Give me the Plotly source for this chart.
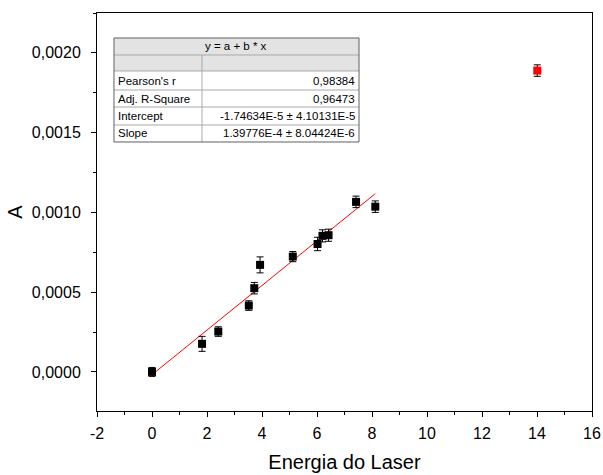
import plotly.graph_objects as go

# data
energy = [0.0, 1.82, 2.41, 3.52, 3.72, 3.93, 5.12, 6.02, 6.20, 6.42, 7.42, 8.12]
absorb = [0.0000, 0.000176, 0.000253, 0.000416, 0.000525, 0.000671, 0.000723, 0.000802, 0.000853, 0.000857, 0.001066, 0.001036]
err = [0.000028, 0.000047, 0.000030, 0.000030, 0.000036, 0.000050, 0.000032, 0.000042, 0.000038, 0.000038, 0.000036, 0.000036]
outlier_x = [14.01]
outlier_y = [0.001889]
outlier_err = [0.000036]
fit_a = -1.74634e-5
fit_b = 1.39776e-4
fit_x = [0.0, 8.12]
fit_y = [fit_a + fit_b * v for v in fit_x]

x_ticks = [-2, 0, 2, 4, 6, 8, 10, 12, 14, 16]
y_ticks = [0, 0.0005, 0.001, 0.0015, 0.002]

table_title = "y = a + b * x"
table_rows = [("Pearson's r", "0,98384"), ("Adj. R-Square", "0,96473"),
              ("Intercept", "-1.74634E-5 ± 4.10131E-5"), ("Slope", "1.39776E-4 ± 8.04424E-6")]

FONT = "Arial, Liberation Sans, sans-serif"

fig = go.Figure()
fig.add_trace(go.Scatter(x=fit_x, y=fit_y, mode="lines", line=dict(color="red", width=1), showlegend=False))
fig.add_trace(go.Scatter(x=energy, y=absorb, mode="markers",
                         marker=dict(symbol="square", size=8, color="black"),
                         error_y=dict(type="data", array=err, color="black", thickness=1, width=3.5),
                         showlegend=False))
fig.add_trace(go.Scatter(x=outlier_x, y=outlier_y, mode="markers",
                         marker=dict(symbol="square", size=8, color="red"),
                         error_y=dict(type="data", array=outlier_err, color="black", thickness=1, width=3.5),
                         showlegend=False))

# table (paper coords)
L, R, S = 0.0343, 0.5293, 0.2121
rows_y = [0.9372, 0.8945, 0.8543, 0.8065, 0.7638, 0.7186, 0.6759]
gray = "#e3e3e3"
inner = "#a8a8a8"
outer = "#606060"
shapes = []
shapes.append(dict(type="rect", xref="paper", yref="paper", x0=L, x1=R, y0=rows_y[2], y1=rows_y[0],
                   fillcolor=gray, line=dict(width=0), layer="above"))
shapes.append(dict(type="rect", xref="paper", yref="paper", x0=L, x1=R, y0=rows_y[-1], y1=rows_y[2],
                   fillcolor="white", line=dict(width=0), layer="above"))
for yy in rows_y[1:-1]:
    shapes.append(dict(type="line", xref="paper", yref="paper", x0=L, x1=R, y0=yy, y1=yy,
                       line=dict(color=inner, width=1), layer="above"))
shapes.append(dict(type="line", xref="paper", yref="paper", x0=S, x1=S, y0=rows_y[-1], y1=rows_y[1],
                   line=dict(color=inner, width=1), layer="above"))
shapes.append(dict(type="rect", xref="paper", yref="paper", x0=L, x1=R, y0=rows_y[-1], y1=rows_y[0],
                   fillcolor="rgba(0,0,0,0)", line=dict(color=outer, width=1), layer="above"))

annots = []
tf = dict(size=11.5, family=FONT, color="black")
annots.append(dict(xref="paper", yref="paper", x=(L + R) / 2, y=(rows_y[0] + rows_y[1]) / 2,
                   xanchor="center", yanchor="middle", text=table_title, showarrow=False, font=tf))
for i, (k, v) in enumerate(table_rows):
    yc = (rows_y[2 + i] + rows_y[3 + i]) / 2
    annots.append(dict(xref="paper", yref="paper", x=L + 0.004, y=yc, xanchor="left", yanchor="middle",
                       text=k, showarrow=False, font=tf))
    annots.append(dict(xref="paper", yref="paper", x=R - 0.004, y=yc, xanchor="right", yanchor="middle",
                       text=v, showarrow=False, font=tf))

axis_common = dict(showline=True, linecolor="black", linewidth=1, mirror=True, ticks="outside",
                   ticklen=5, tickwidth=1, tickcolor="black", showgrid=False, zeroline=False,
                   automargin=False,
                   tickfont=dict(size=16, family=FONT, color="black"))

fig.update_layout(
    width=603, height=475, plot_bgcolor="white", paper_bgcolor="white",
    margin=dict(l=97, r=11, t=13, b=64),
    separators=",.",
    font=dict(family=FONT, color="black"),
    shapes=shapes, annotations=annots,
    xaxis=dict(range=[-2, 16], tickvals=x_ticks, ticktext=[str(v) for v in x_ticks], ticklabelstandoff=3,
               minor=dict(ticks="outside", ticklen=3, tickcolor="black", dtick=1, tick0=0),
               title=dict(text="Energia do Laser", font=dict(size=20, family=FONT), standoff=13),
               **axis_common),
    yaxis=dict(range=[-0.000245, 0.00225], tickvals=y_ticks, tickformat=".4f",
               ticklabelstandoff=7,
               minor=dict(ticks="outside", ticklen=3, tickcolor="black", dtick=0.00025, tick0=0),
               title=dict(text="A", font=dict(size=20, family=FONT), standoff=3),
               **axis_common),
)

fig.write_html("out.html")
